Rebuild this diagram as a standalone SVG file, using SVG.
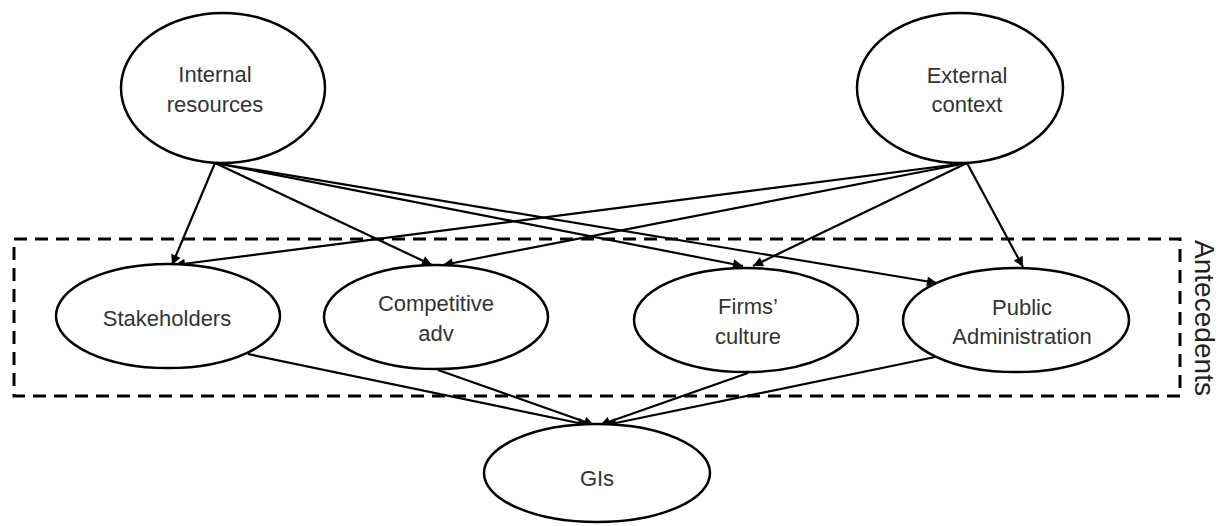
<svg xmlns="http://www.w3.org/2000/svg" width="1220" height="526" viewBox="0 0 1220 526">
<defs>
<style>
.node ellipse{fill:#fff;stroke:#000;stroke-width:2.5}
.lbl{font-family:"Liberation Sans",Arial,sans-serif;font-size:22px;fill:#333;text-anchor:middle}
.side{font-size:27px;fill:#222}
.edge{stroke:#000;stroke-width:2.2;fill:none;marker-end:url(#arr)}
</style>
<marker id="arr" viewBox="0 0 10 10" refX="10" refY="5" markerWidth="12" markerHeight="10" markerUnits="userSpaceOnUse" orient="auto">
<path d="M0,0 L10,5 L0,10 z" fill="#000"/>
</marker>
</defs>
<rect id="antecedents-box" x="14" y="239" width="1166" height="157" fill="none" stroke="#000" stroke-width="3" stroke-dasharray="13,8"/>
<text class="lbl side" transform="translate(1195,318) rotate(90)" textLength="156" lengthAdjust="spacingAndGlyphs">Antecedents</text>
<g id="connectors">
<line class="edge" x1="215" y1="163" x2="172" y2="265"/>
<line class="edge" x1="215" y1="163" x2="432" y2="265"/>
<line class="edge" x1="215" y1="163" x2="743" y2="266"/>
<line class="edge" x1="215" y1="163" x2="937" y2="283"/>
<line class="edge" x1="967" y1="163" x2="175" y2="265"/>
<line class="edge" x1="967" y1="163" x2="443" y2="265"/>
<line class="edge" x1="967" y1="163" x2="753" y2="266"/>
<line class="edge" x1="967" y1="163" x2="1023" y2="267"/>
<line class="edge" x1="248" y1="354" x2="588" y2="425"/>
<line class="edge" x1="438" y1="370" x2="594" y2="425"/>
<line class="edge" x1="748" y1="373" x2="600" y2="425"/>
<line class="edge" x1="935" y1="357" x2="606" y2="425"/>
</g>
<g id="internal-resources" class="node">
<ellipse cx="223" cy="88" rx="102" ry="75"/>
<text class="lbl" x="215" y="82">Internal</text>
<text class="lbl" x="215" y="112">resources</text>
</g>
<g id="external-context" class="node">
<ellipse cx="960" cy="88" rx="103" ry="75"/>
<text class="lbl" x="967" y="83">External</text>
<text class="lbl" x="967" y="112">context</text>
</g>
<g id="stakeholders" class="node">
<ellipse cx="168" cy="316" rx="112" ry="52"/>
<text class="lbl" x="167" y="326">Stakeholders</text>
</g>
<g id="competitive-adv" class="node">
<ellipse cx="436" cy="317" rx="112" ry="52"/>
<text class="lbl" x="436" y="311">Competitive</text>
<text class="lbl" x="436" y="341">adv</text>
</g>
<g id="firms-culture" class="node">
<ellipse cx="746" cy="320" rx="112" ry="52"/>
<text class="lbl" x="748" y="314">Firms’</text>
<text class="lbl" x="748" y="344">culture</text>
</g>
<g id="public-administration" class="node">
<ellipse cx="1016" cy="320" rx="113" ry="52"/>
<text class="lbl" x="1022" y="315">Public</text>
<text class="lbl" x="1022" y="344">Administration</text>
</g>
<g id="gis" class="node">
<ellipse cx="597" cy="473" rx="113" ry="49"/>
<text class="lbl" x="597" y="486">GIs</text>
</g>
</svg>
